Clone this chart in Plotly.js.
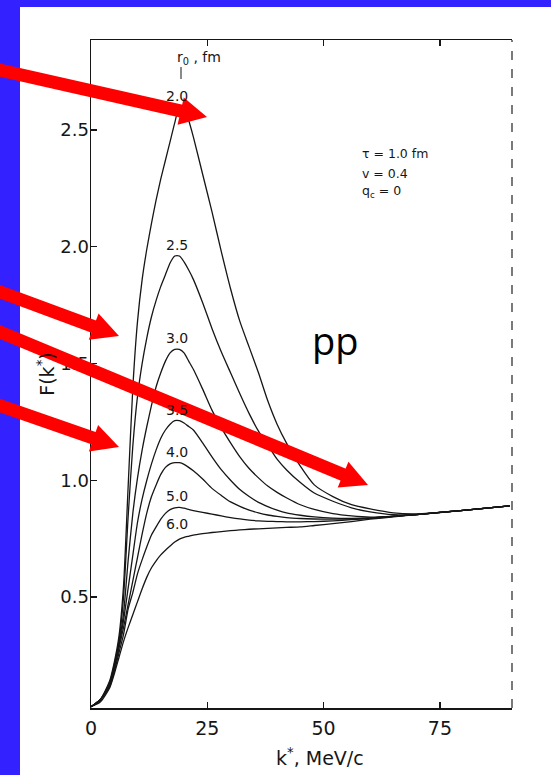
<!DOCTYPE html>
<html><head><meta charset="utf-8">
<script src="https://cdn.plot.ly/plotly-3.0.1.min.js"></script>
<style>html,body{margin:0;padding:0;background:#3322ff;} #chart{width:551px;height:775px;}</style>
</head><body><div id="chart"></div>
<script>
// ---- data ----
const kStar = [0,2,4,5,6,7,8,9,10,11, 12,13,14,15,16,17,18,19,20,21,22, 24,26,28,30,32,34,36,38,40,42, 45,48,52,56,60,65,70,80,90];
const r0Labels = ["2.0","2.5","3.0","3.5","4.0","5.0","6.0"];
const F_r2_0 = [0.03,0.06,0.14,0.22,0.33,0.55,0.98,1.40,1.68,1.86, 1.99,2.10,2.20,2.29,2.37,2.45,2.53,2.60,2.59,2.54,2.47, 2.31,2.15,1.98,1.82,1.68,1.57,1.46,1.34,1.24,1.16, 1.06,0.98,0.93,0.895,0.877,0.86,0.856,0.871,0.89];
const F_r2_5 = [0.03,0.06,0.13,0.21,0.31,0.50,0.85,1.15,1.36,1.50, 1.61,1.70,1.77,1.83,1.88,1.93,1.96,1.96,1.935,1.90,1.86, 1.76,1.65,1.55,1.46,1.37,1.285,1.21,1.15,1.09,1.045, 0.99,0.945,0.91,0.882,0.864,0.852,0.854,0.871,0.89];
const F_r3_0 = [0.03,0.06,0.13,0.20,0.30,0.43,0.66,0.86,1.01,1.13, 1.23,1.32,1.40,1.46,1.51,1.545,1.56,1.56,1.545,1.51,1.475, 1.39,1.30,1.225,1.16,1.10,1.05,1.01,0.975,0.948,0.925, 0.895,0.875,0.857,0.847,0.842,0.846,0.853,0.871,0.89];
const F_r3_5 = [0.03,0.06,0.12,0.19,0.29,0.40,0.54,0.68,0.82,0.92, 1.00,1.07,1.13,1.18,1.215,1.24,1.255,1.255,1.245,1.23,1.215, 1.16,1.10,1.045,1.00,0.96,0.93,0.905,0.887,0.872,0.86, 0.85,0.843,0.838,0.837,0.839,0.845,0.853,0.871,0.89];
const F_r4_0 = [0.03,0.06,0.12,0.19,0.28,0.37,0.47,0.57,0.67,0.77, 0.86,0.93,0.98,1.025,1.055,1.07,1.075,1.075,1.068,1.055,1.04, 1.005,0.965,0.935,0.907,0.888,0.872,0.86,0.851,0.845,0.84, 0.836,0.834,0.833,0.834,0.838,0.845,0.853,0.871,0.89];
const F_r5_0 = [0.03,0.06,0.115,0.18,0.26,0.34,0.45,0.52,0.60,0.66, 0.715,0.765,0.80,0.833,0.858,0.874,0.882,0.884,0.88,0.875,0.87, 0.862,0.855,0.847,0.84,0.834,0.829,0.826,0.824,0.823,0.822, 0.822,0.823,0.826,0.831,0.837,0.845,0.853,0.871,0.89];
const F_r6_0 = [0.03,0.05,0.11,0.17,0.24,0.31,0.37,0.425,0.48,0.535, 0.585,0.625,0.655,0.68,0.70,0.718,0.735,0.748,0.755,0.76,0.765, 0.771,0.776,0.78,0.784,0.787,0.79,0.792,0.794,0.796,0.798, 0.80,0.806,0.814,0.823,0.833,0.843,0.853,0.871,0.89];
const xTickVals = [0,25,50,75];
const xTickText = ["0","25","50","75"];
const yTickVals = [0.5,1.0,1.5,2.0,2.5];
const yTickText = ["0.5","1.0","1.5","2.0","2.5"];
const xTitle = "k<sup>*</sup>, MeV/c";
const yTitle = "F(k<sup>*</sup>)";
const paramLines = ["\u03c4 = 1.0 fm","v = 0.4","q<sub>c</sub> = 0"];
const panelLabel = "pp";
const r0Header = "r<sub>0</sub> , fm";

// ---- drawing ----
const series = [F_r2_0,F_r2_5,F_r3_0,F_r3_5,F_r4_0,F_r5_0,F_r6_0];
const FONT = "DejaVu Sans";
const INK = "#161616";

// plot-area geometry in page pixels
const PL = 91, PT = 40, PW = 421, PH = 668, PB = PT + PH;
const px = x => (x - PL) / PW;
const py = y => (PB - y) / PH;

const traces = series.map((ys, i) => ({
  type: "scatter", mode: "lines", x: kStar, y: ys, name: r0Labels[i],
  line: {color: INK, width: 1.3, shape: "spline", smoothing: 0.6},
  hoverinfo: "skip"
}));

const annotations = [];
series.forEach((ys, i) => {
  let m = -Infinity;
  kStar.forEach((k, j) => { if (k >= 15 && k <= 22 && ys[j] > m) m = ys[j]; });
  annotations.push({x: 18.5, y: m, xref: "x", yref: "y", xanchor: "center", text: r0Labels[i], showarrow: false,
    yshift: 11, font: {family: FONT, size: 14, color: INK}});
});
annotations.push({x: px(199), y: py(58), xref: "paper", yref: "paper", xanchor: "center", yanchor: "middle",
  text: r0Header, showarrow: false, font: {family: FONT, size: 14, color: INK}});
[153, 173, 191].forEach((yy, i) => annotations.push({x: px(360), y: py(yy), xref: "paper", yref: "paper",
  xanchor: "left", yanchor: "middle", text: paramLines[i], showarrow: false, font: {family: FONT, size: 12.5, color: INK}}));
annotations.push({x: px(335), y: py(340), xref: "paper", yref: "paper", xanchor: "center", yanchor: "middle",
  text: panelLabel, showarrow: false, font: {family: "Open Sans", size: 38, color: "#000"}});
// x-axis title (drawn as annotation to sit where the original places it)
annotations.push({x: px(320), y: py(757), xref: "paper", yref: "paper", xanchor: "center", yanchor: "middle",
  text: xTitle, showarrow: false, font: {family: FONT, size: 19, color: INK}});

const shapes = [];
// white sheet over the blue frame
shapes.push({type: "rect", xref: "paper", yref: "paper", x0: px(20), x1: px(560), y0: py(790), y1: py(7),
  fillcolor: "#ffffff", line: {width: 0}, layer: "below"});
// dashed right frame
shapes.push({type: "line", xref: "paper", yref: "paper", x0: 1, x1: 1, y0: 0, y1: 1,
  line: {color: "#333", width: 1.3, dash: "dash"}});
// small pointer under r0 header
shapes.push({type: "line", xref: "paper", yref: "paper", x0: px(181), x1: px(181), y0: py(67), y1: py(79),
  line: {color: INK, width: 1}});

function arrow(x0, y0, x1, y1) {
  const dx = x1 - x0, dy = y1 - y0, L = Math.hypot(dx, dy), ux = dx / L, uy = dy / L;
  const hl = 27, hw = 14, nx = -uy, ny = ux;
  const bx = x1 - ux * hl, by = y1 - uy * hl;
  shapes.push({type: "line", xref: "paper", yref: "paper", x0: px(x0), y0: py(y0), x1: px(bx + ux * 3), y1: py(by + uy * 3),
    line: {color: "#ff0000", width: 13}});
  const p = [[x1, y1], [bx + nx * hw, by + ny * hw], [bx - nx * hw, by - ny * hw]];
  shapes.push({type: "path", xref: "paper", yref: "paper",
    path: "M" + p.map(q => px(q[0]) + "," + py(q[1])).join(" L") + " Z",
    fillcolor: "#ff0000", line: {width: 0}});
}
arrow(-5, 69, 207, 117);
arrow(-5, 290, 119, 336);
arrow(-5, 330, 368, 485);
arrow(-5, 404, 119, 447);

const layout = {
  width: 551, height: 775,
  margin: {l: PL, r: 551 - PL - PW, t: PT, b: 775 - PB, pad: 0},
  paper_bgcolor: "#3322ff", plot_bgcolor: "#ffffff",
  showlegend: false,
  xaxis: {range: [0, 90.5], tickvals: xTickVals, ticktext: xTickText, ticks: "inside", ticklen: 6,
    tickwidth: 1.2, tickcolor: INK, showline: true, linecolor: INK, linewidth: 1.5, mirror: "ticks",
    showgrid: false, zeroline: false, ticklabelstandoff: 3,
    tickfont: {family: FONT, size: 19, color: INK}},
  yaxis: {range: [0.0246, 2.885], tickvals: yTickVals, ticktext: yTickText, ticks: "inside", ticklen: 6,
    tickwidth: 1.2, tickcolor: INK, showline: true, linecolor: INK, linewidth: 1.5, mirror: false,
    showgrid: false, zeroline: false, ticklabelstandoff: -3,
    tickfont: {family: FONT, size: 18, color: INK},
    title: {text: yTitle, font: {family: FONT, size: 19, color: INK}, standoff: 0}},
  annotations: annotations, shapes: shapes
};

Plotly.newPlot("chart", traces, layout, {displayModeBar: false, staticPlot: true});
</script></body></html>
